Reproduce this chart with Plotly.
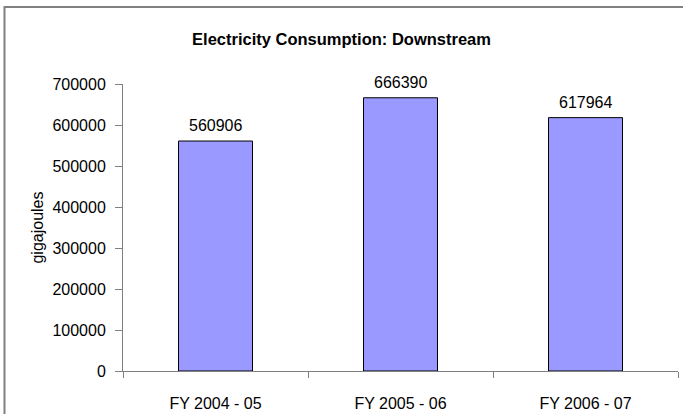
import plotly.graph_objects as go

# Electricity consumption by financial year (gigajoules)
years = ["FY 2004 - 05", "FY 2005 - 06", "FY 2006 - 07"]
consumption = [560906, 666390, 617964]
y_ticks = [0, 100000, 200000, 300000, 400000, 500000, 600000, 700000]

W, H = 683, 414
ML, MR, MT, MB = 123, 5, 84, 43
plot_w = W - ML - MR
plot_h = H - MT - MB

FONT = "Liberation Sans, Arial, sans-serif"
FS = 16
GRID_GREY = "#808080"

fig = go.Figure()
fig.add_trace(go.Bar(
    x=years,
    y=consumption,
    width=0.4,
    marker=dict(color="#9999FF", line=dict(color="#000000", width=1)),
    hoverinfo="x+y",
))

# value labels above each bar
for yr, val in zip(years, consumption):
    fig.add_annotation(
        x=yr, y=val, text=str(val), showarrow=False,
        xref="x", yref="y", yanchor="bottom", yshift=5,
        font=dict(family=FONT, size=FS, color="#000000"),
    )

# outer chart frame (px -> paper coordinates)
def px_to_paper_x(px):
    return (px - ML) / plot_w

def px_to_paper_y(py):
    return (H - MB - py) / plot_h

fig.add_shape(
    type="rect", xref="paper", yref="paper",
    x0=px_to_paper_x(4.5), x1=px_to_paper_x(700),
    y0=px_to_paper_y(430), y1=px_to_paper_y(7),
    line=dict(color=GRID_GREY, width=2), fillcolor="rgba(0,0,0,0)",
)

fig.update_layout(
    width=W, height=H,
    margin=dict(l=ML, r=MR, t=MT, b=MB),
    paper_bgcolor="white", plot_bgcolor="white",
    showlegend=False,
    title=dict(
        text="<b>Electricity Consumption: Downstream</b>",
        x=0.5, xref="container", xanchor="center",
        y=1 - 39 / H, yref="container", yanchor="middle",
        font=dict(family=FONT, size=16.5, color="#000000"),
    ),
    font=dict(family=FONT, size=FS, color="#000000"),
)

fig.update_xaxes(
    range=[-0.5, 2.5], automargin=False,
    showline=True, linecolor=GRID_GREY, linewidth=1,
    ticks="outside", tickson="boundaries", ticklen=6, tickcolor=GRID_GREY,
    ticklabelstandoff=18,
    showgrid=False, zeroline=False,
    tickfont=dict(family=FONT, size=FS, color="#000000"),
)
fig.update_yaxes(
    range=[0, 700000], automargin=False,
    tickvals=y_ticks, ticktext=[str(v) for v in y_ticks],
    showline=True, linecolor=GRID_GREY, linewidth=1,
    ticks="outside", ticklen=7, tickcolor=GRID_GREY,
    ticklabelstandoff=6,
    showgrid=False, zeroline=False,
    tickfont=dict(family=FONT, size=FS, color="#000000"),
    title=dict(text="gigajoules", standoff=4,
               font=dict(family=FONT, size=FS, color="#000000")),
)

fig.write_html("out.html")
